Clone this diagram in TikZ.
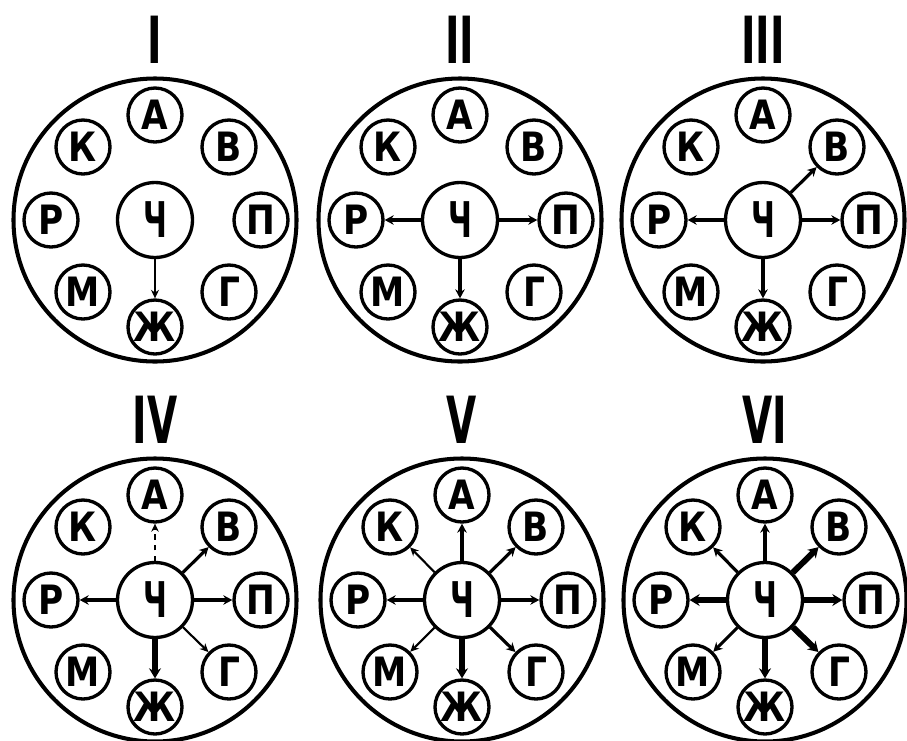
\documentclass[tikz,border=0pt]{standalone}
\usepackage{fontspec}
\setmainfont{DejaVu Sans}
\usepackage{graphicx}
\usepackage{tikz}
\usetikzlibrary{arrows.meta}
\newcommand{\squeeze}[2]{\scalebox{#1}[1]{#2}}
\tikzset{
  ring/.style={circle, draw, line width=2.3pt, minimum size=56.6mm, inner sep=0pt},
  cell/.style={circle, draw, line width=1.9pt, minimum size=10.8mm, inner sep=0pt,
    font=\fontsize{23}{23}\selectfont\bfseries},
  hub/.style={circle, draw, line width=1.9pt, minimum size=15mm, inner sep=0pt,
    font=\fontsize{28}{28}\selectfont\bfseries},
  numeral/.style={font=\fontsize{37}{37}\selectfont\bfseries, inner sep=0pt},
  faint/.style={-{Stealth[length=1.6mm,width=1.5mm]}, line width=1.1pt,
    dash pattern=on 3pt off 3pt},
  weak/.style={-{Stealth[length=1.7mm,width=1.6mm]}, line width=1.2pt},
  link/.style={-{Stealth[length=1.8mm,width=1.9mm]}, line width=1.8pt},
  strong/.style={-{Stealth[length=2mm,width=2.4mm]}, line width=3.4pt}
}

\begin{document}
\begin{tikzpicture}[x=0.2mm, y=-0.2mm]
  \useasboundingbox (0,0) rectangle (907,741);

  % six panels: ring, numeral, hub and eight cells
  \foreach \i/\cx/\cy/\t in {1/155/220/I, 2/460/220/II, 3/763/220/III,
                             4/155/600/IV, 5/462/600/V, 6/765/600/VI}{
    \node[ring] (ring\i) at (\cx,\cy) {};
    \node[numeral] (title\i) at (\cx,\cy-180) {\squeeze{0.6}{\t}};
    \node[hub] (ch\i) at (\cx,\cy) {\squeeze{0.6}{Ч}};
    \foreach \n/\dx/\dy/\l in {a/0/-105/А, v/74/-73/В, p/106/0/П, g/74/72/Г,
                               zh/0/107/Ж, m/-72/72/М, r/-104/0/Р, k/-72/-73/К}{
      \node[cell] (\n\i) at (\cx+\dx,\cy+\dy) {\squeeze{0.85}{\l}};
    }
  }

  % I
  \draw[weak] (ch1) -- (zh1);
  % II
  \foreach \n in {r,p,zh} \draw[link] (ch2) -- (\n2);
  % III
  \foreach \n in {v,r,p,zh} \draw[link] (ch3) -- (\n3);
  % IV
  \draw[faint] (ch4) -- (a4);
  \draw[weak] (ch4) -- (g4);
  \foreach \n in {v,r,p} \draw[link] (ch4) -- (\n4);
  \draw[strong] (ch4) -- (zh4);
  % V
  \foreach \n in {k,m} \draw[weak] (ch5) -- (\n5);
  \foreach \n in {a,v,r,p,g} \draw[link] (ch5) -- (\n5);
  \draw[strong] (ch5) -- (zh5);
  % VI
  \foreach \n in {a,k,m} \draw[link] (ch6) -- (\n6);
  \foreach \n in {v,r,p,g,zh} \draw[strong] (ch6) -- (\n6);
\end{tikzpicture}
\end{document}
